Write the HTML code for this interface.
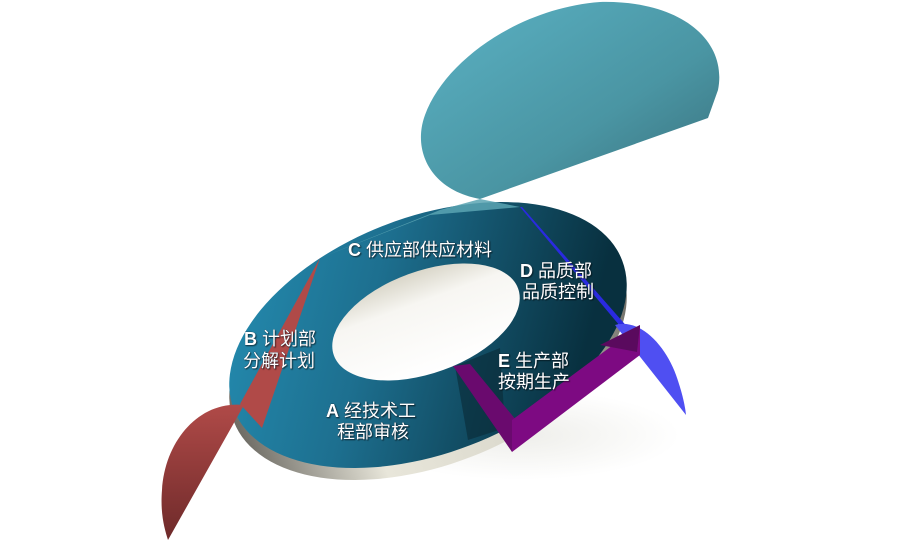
<!DOCTYPE html>
<html><head><meta charset="utf-8"><style>
html,body{margin:0;padding:0;background:#fff;width:902px;height:546px;overflow:hidden}
text{font-family:"Liberation Sans","Noto Sans CJK SC",sans-serif;fill:#fff;font-size:18px;stroke:#123;stroke-width:0.4;paint-order:stroke}
</style></head><body>
<svg width="902" height="546" viewBox="0 0 902 546">
<defs>
<linearGradient id="ring" x1="0" y1="0" x2="1" y2="0.4">
<stop offset="0" stop-color="#2590b5"/><stop offset="0.45" stop-color="#1d6f8f"/><stop offset="1" stop-color="#08303f"/></linearGradient>
<linearGradient id="side" x1="0" y1="0" x2="1" y2="0">
<stop offset="0" stop-color="#6d6b64"/><stop offset="0.3" stop-color="#e8e6da"/><stop offset="0.7" stop-color="#d8d6ca"/><stop offset="1" stop-color="#6d6b64"/></linearGradient>
<linearGradient id="hole" x1="0" y1="0" x2="0" y2="1">
<stop offset="0" stop-color="#d9d6c9"/><stop offset="0.3" stop-color="#f7f6f2"/><stop offset="1" stop-color="#fff"/></linearGradient>
<linearGradient id="top" x1="0" y1="0" x2="1" y2="1">
<stop offset="0" stop-color="#5bb2c4"/><stop offset="0.6" stop-color="#4a95a3"/><stop offset="1" stop-color="#386e7a"/></linearGradient>
<linearGradient id="red" x1="0" y1="0" x2="0" y2="1">
<stop offset="0" stop-color="#b04a48"/><stop offset="1" stop-color="#6e2a2a"/></linearGradient>
<radialGradient id="shadow" cx="0.5" cy="0.5" r="0.5"><stop offset="0" stop-color="#eeeeea"/><stop offset="1" stop-color="#fff"/></radialGradient>
<filter id="ts"><feDropShadow dx="1" dy="1" stdDeviation="0.6" flood-color="#000" flood-opacity="0.5"/></filter>
</defs>
<ellipse cx="520" cy="435" rx="160" ry="45" fill="url(#shadow)"/>
<g transform="translate(428,347) rotate(-21)">
<ellipse cx="0" cy="0" rx="208" ry="118" fill="url(#side)"/>
</g>
<g transform="translate(428,335) rotate(-21)">
<ellipse cx="0" cy="0" rx="208" ry="118" fill="url(#ring)"/>
</g>
<path d="M455,366 L500,348 L505,428 L468,440 Z" fill="#0a2a36" opacity="0.6"/>
<g transform="translate(426,322) rotate(-20)">
<ellipse cx="0" cy="0" rx="98" ry="51" fill="url(#hole)"/>
</g>
<path d="M480,199 C430,190 412,150 425,115 C445,60 520,8 600,2 C680,0 728,40 718,90 L708,118 Z" fill="url(#top)"/>
<path d="M480,199 L520,207 L430,215 L320,258 L440,210 Z" fill="#5aa5b3" opacity="0.85"/>
<path d="M320,258 L262,428 L240,404 Z" fill="#b04a48"/>
<path d="M244,405 C200,400 165,440 162,490 C160,515 165,530 168,540 Z" fill="url(#red)"/>
<path d="M520,207 L522,207 L630,330 L625,332 Z" fill="#2a2ae0"/>
<path d="M615,325 C640,318 665,345 676,375 C682,392 685,405 686,415 Z" fill="#4f4ff2"/>
<path d="M453,366 L470,364 L516,420 L512,452 Z" fill="#6a0a6e"/>
<path d="M512,420 L640,325 L640,355 L512,452 Z" fill="#7d0a82"/>
<path d="M600,345 L640,325 L637,352 Z" fill="#5a0a5e"/>
<g filter="url(#ts)">
<text x="348" y="256"><tspan font-weight="bold">C</tspan> 供应部供应材料</text>
<text x="520" y="277"><tspan font-weight="bold">D</tspan> 品质部</text>
<text x="522" y="298">品质控制</text>
<text x="244" y="345"><tspan font-weight="bold">B</tspan> 计划部</text>
<text x="243" y="367">分解计划</text>
<text x="498" y="367"><tspan font-weight="bold">E</tspan> 生产部</text>
<text x="498" y="388">按期生产</text>
<text x="326" y="417"><tspan font-weight="bold">A</tspan> 经技术工</text>
<text x="337" y="438">程部审核</text>
</g>
</svg>
</body></html>
